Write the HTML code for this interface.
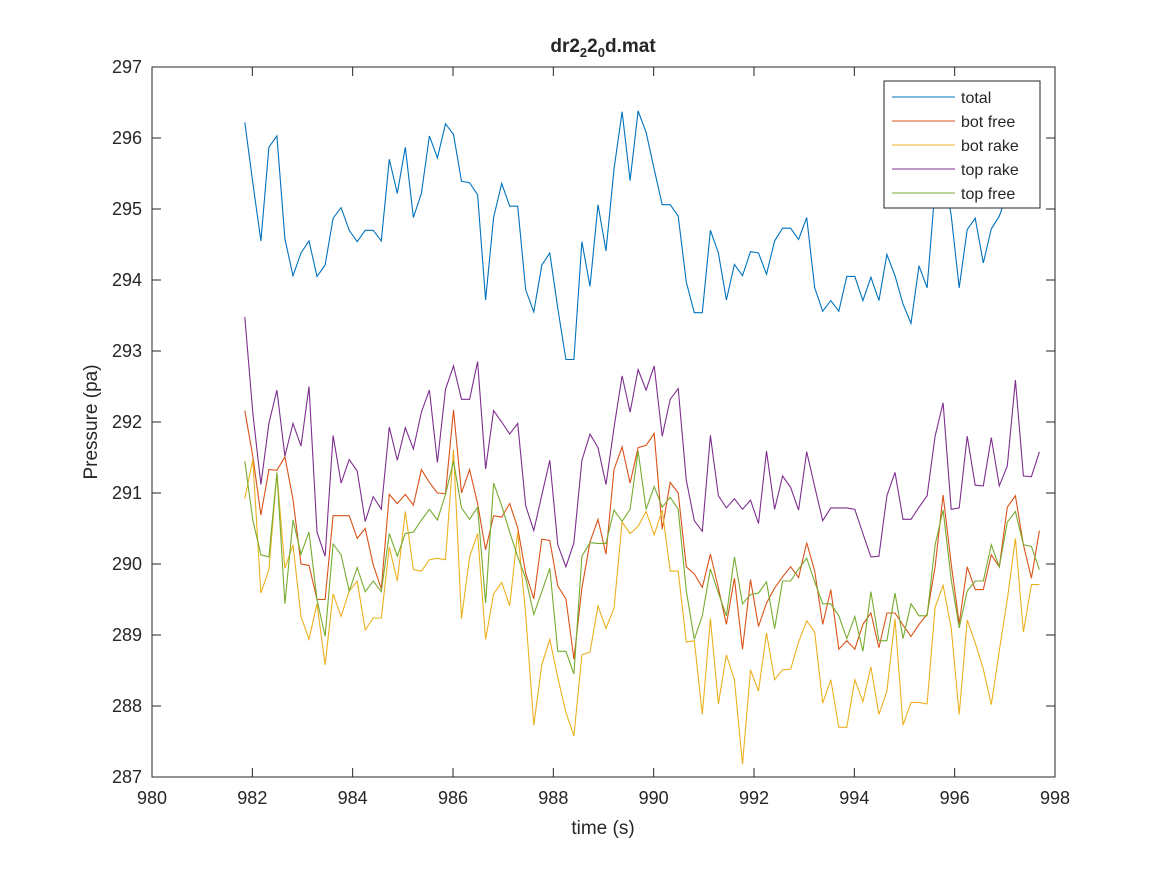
<!DOCTYPE html>
<html><head><meta charset="utf-8"><style>
body{margin:0;background:#fff;}
svg text{font-family:"Liberation Sans",Helvetica,Arial,sans-serif;fill:#262626;}
</style></head><body>
<svg id="chart" width="1167" height="875" xmlns="http://www.w3.org/2000/svg">
<rect width="1167" height="875" fill="#fff"/>
<text x="603" y="52" text-anchor="middle" font-size="19" font-weight="bold">dr2<tspan font-size="13" dy="5">2</tspan><tspan dy="-5">2</tspan><tspan font-size="13" dy="5">0</tspan><tspan dy="-5">d.mat</tspan></text>
<g id="grid"></g>
<g id="series"></g>
<rect x="152" y="67" width="903" height="710" fill="none" stroke="#262626" stroke-width="1"/>
<text x="603" y="834" text-anchor="middle" font-size="19">time (s)</text>
<text transform="translate(97,422) rotate(-90)" text-anchor="middle" font-size="19">Pressure (pa)</text>
<g id="legend"></g>
</svg>
<script>
const tStart = 981.85, tStep = 0.16;
const xTicks = [980,982,984,986,988,990,992,994,996,998];
const yTicks = [287,288,289,290,291,292,293,294,295,296,297];
const seriesNames = ["total","bot free","bot rake","top rake","top free"];
const seriesColors = ["#0072BD","#D95319","#EDB120","#7E2F8E","#77AC30"];
const total = [296.22,295.37,294.55,295.87,296.03,294.58,294.06,294.38,294.55,294.05,294.21,294.87,295.02,294.70,294.54,294.70,294.70,294.55,295.70,295.22,295.87,294.88,295.22,296.03,295.72,296.20,296.05,295.39,
295.37,295.20,293.72,294.88,295.36,295.04,295.04,293.86,293.55,294.21,294.38,293.60,292.88,292.88,294.54,293.91,295.06,294.41,295.56,296.37,295.40,296.38,296.08,295.56,295.06,295.06,294.90,293.97,
293.54,293.54,294.70,294.38,293.72,294.22,294.06,294.40,294.38,294.08,294.55,294.73,294.73,294.57,294.88,293.89,293.56,293.71,293.56,294.05,294.05,293.71,294.04,293.71,294.36,294.06,293.66,
293.39,294.20,293.89,295.3,295.6,294.91,293.89,294.71,294.87,294.24,294.72,294.90,295.22,295.5,295.8,295.6,295.9];
const botFree = [292.16,291.52,290.69,291.33,291.32,291.51,290.91,290.00,289.98,289.50,289.50,290.68,290.68,290.68,290.36,290.50,289.99,289.65,290.98,290.85,290.98,290.83,291.33,291.15,291.00,290.99,292.17,291.00,
291.33,290.85,290.20,290.68,290.66,290.85,290.51,289.87,289.51,290.35,290.33,289.69,289.51,288.66,289.66,290.31,290.63,290.14,291.33,291.65,291.14,291.64,291.67,291.84,290.49,291.15,291.00,289.96,
289.86,289.67,290.14,289.66,289.15,289.80,288.80,289.78,289.12,289.45,289.66,289.82,289.96,289.81,290.30,289.90,289.15,289.64,288.80,288.92,288.80,289.15,289.31,288.82,289.31,289.31,289.14,
288.98,289.15,289.29,289.96,290.97,290.00,289.16,289.96,289.64,289.64,290.13,289.96,290.80,290.96,290.27,289.80,290.47];
const botRake = [290.92,291.47,289.59,289.92,291.28,289.94,290.27,289.26,288.94,289.44,288.58,289.58,289.26,289.62,289.76,289.07,289.24,289.24,290.24,289.76,290.74,289.92,289.90,290.06,290.08,290.06,291.61,289.23,
290.10,290.43,288.94,289.58,289.74,289.41,290.45,289.29,287.73,288.58,288.94,288.40,287.91,287.58,288.72,288.76,289.41,289.09,289.38,290.59,290.43,290.53,290.74,290.41,290.76,289.90,289.90,288.90,
288.92,287.88,289.23,288.03,288.72,288.37,287.18,288.51,288.21,289.03,288.37,288.51,288.52,288.90,289.20,289.04,288.04,288.37,287.70,287.70,288.37,288.06,288.55,287.88,288.21,289.23,287.73,
288.05,288.05,288.03,289.39,289.70,289.10,287.88,289.21,288.89,288.52,288.02,288.78,289.50,290.36,289.04,289.71,289.71];
const topRake = [293.48,292.13,291.12,291.98,292.45,291.52,291.98,291.66,292.50,290.45,290.11,291.81,291.14,291.47,291.31,290.60,290.95,290.77,291.93,291.46,291.92,291.62,292.14,292.45,291.43,292.46,292.79,292.32,
292.32,292.85,291.34,292.16,292.00,291.83,291.98,290.82,290.47,290.97,291.46,290.27,289.96,290.30,291.46,291.83,291.64,291.12,291.92,292.65,292.14,292.74,292.45,292.79,291.80,292.32,292.47,291.18,
290.61,290.46,291.81,290.96,290.79,290.92,290.77,290.90,290.57,291.59,290.77,291.24,291.08,290.76,291.58,291.09,290.61,290.79,290.79,290.79,290.77,290.43,290.10,290.11,290.96,291.29,290.63,
290.63,290.80,290.96,291.80,292.27,290.77,290.79,291.80,291.11,291.10,291.78,291.10,291.38,292.59,291.24,291.23,291.58];
const topFree = [291.45,290.62,290.13,290.10,291.29,289.44,290.62,290.14,290.45,289.50,288.98,290.28,290.13,289.62,289.95,289.61,289.76,289.61,290.43,290.11,290.43,290.45,290.62,290.77,290.62,290.98,291.45,290.79,
290.63,290.80,289.45,291.14,290.82,290.45,290.10,289.80,289.29,289.61,289.94,288.77,288.77,288.45,290.11,290.30,290.29,290.29,290.76,290.60,290.77,291.59,290.77,291.09,290.80,290.94,290.77,289.62,
288.94,289.27,289.93,289.59,289.27,290.10,289.44,289.57,289.59,289.75,289.09,289.76,289.76,289.93,290.08,289.75,289.44,289.44,289.27,288.95,289.26,288.77,289.61,288.92,288.92,289.59,288.95,
289.44,289.27,289.27,290.27,290.76,289.78,289.10,289.62,289.76,289.76,290.27,289.96,290.59,290.74,290.27,290.25,289.92];
const allSeries = [total, botFree, botRake, topRake, topFree];

const NS = "http://www.w3.org/2000/svg";
const X0=152, X1=1055, Y0=777, Y1=67;
function xScale(t){ return X0 + (t-980)/(998-980)*(X1-X0); }
function yScale(v){ return Y0 - (v-287)/(297-287)*(Y0-Y1); }
function mk(tag, attrs, parent){ const e=document.createElementNS(NS,tag); for(const k in attrs) e.setAttribute(k,attrs[k]); parent.appendChild(e); return e; }

const grid = document.getElementById('grid');
xTicks.forEach(t=>{
  const x = xScale(t);
  const a = mk('line',{x1:x,x2:x,y1:Y0,y2:Y0-9,stroke:'#262626'},grid);
  
  
  const b = mk('line',{x1:x,x2:x,y1:Y1,y2:Y1+9,stroke:'#262626'},grid);
  
  
  const l = mk('text',{x:x,y:Y0+27,'text-anchor':'middle','font-size':18},grid);
  l.textContent = t;
  
  
});
yTicks.forEach(v=>{
  const y = yScale(v);
  const a = mk('line',{x1:X0,x2:X0+9,y1:y,y2:y,stroke:'#262626'},grid);
  
  
  const b = mk('line',{x1:X1,x2:X1-9,y1:y,y2:y,stroke:'#262626'},grid);
  
  
  const l = mk('text',{x:X0-10,y:y+6,'text-anchor':'end','font-size':18},grid);
  l.textContent = v;
  
  
});

const sg = document.getElementById('series');
allSeries.forEach((arr,si)=>{
  const pts = arr.map((v,i)=> xScale(tStart+i*tStep).toFixed(1)+','+yScale(v).toFixed(1)).join(' ');
  const p = mk('polyline',{points:pts,fill:'none',stroke:seriesColors[si],'stroke-width':1.1,'stroke-linejoin':'miter'},sg);
  
  
});

const lg = document.getElementById('legend');
const box = mk('rect',{x:884,y:81,width:156,height:127,fill:'#fff',stroke:'#262626','stroke-width':1},lg);


seriesNames.forEach((n,i)=>{
  const y = 97 + i*24;
  const ln = mk('line',{x1:892,x2:955,y1:y,y2:y,stroke:seriesColors[i],'stroke-width':1.1},lg);
  
  
  const tx = mk('text',{x:961,y:y+6,'font-size':16},lg);
  tx.textContent = n;
  
  
});
</script>
</body></html>
